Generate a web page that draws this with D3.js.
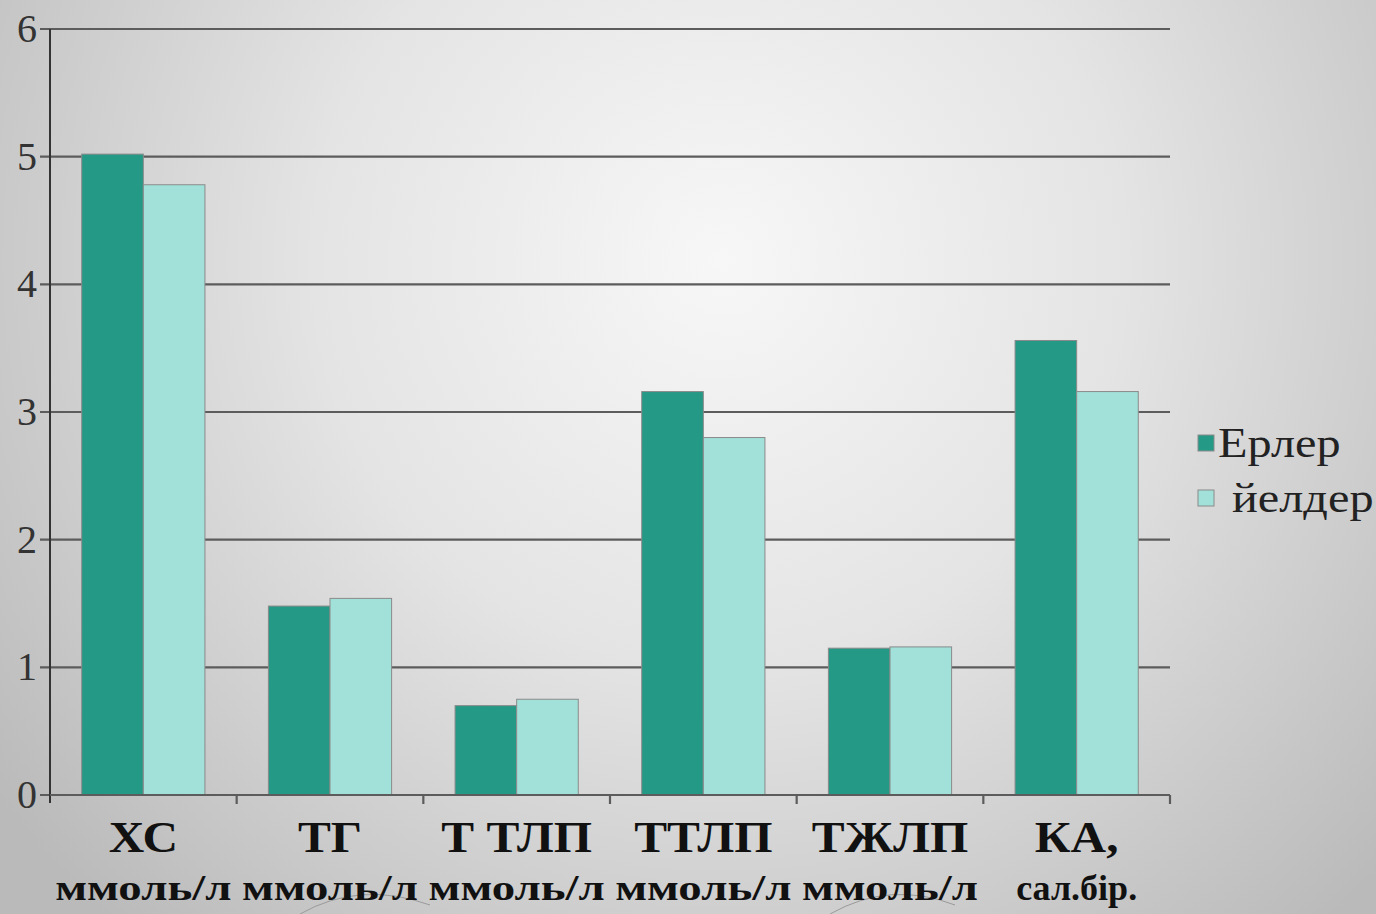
<!DOCTYPE html>
<html>
<head>
<meta charset="utf-8">
<script src="https://cdn.jsdelivr.net/npm/d3@7"></script>
<style>
  body { margin: 0; overflow: hidden; }
  text { font-family: "Liberation Serif", "DejaVu Serif", serif; }
</style>
</head>
<body>
<script>

var W = 1376, H = 914;
var margin = {top: 29, right: 206, bottom: 119, left: 50};
var width = W - margin.left - margin.right,
    height = H - margin.top - margin.bottom;

// data
var categories = ["ХС", "ТГ", "Т ТЛП", "ТТЛП", "ТЖЛП", "КА,"];
var units = ["ммоль/л", "ммоль/л", "ммоль/л", "ммоль/л", "ммоль/л", "сал.бір."];
var seriesNames = ["Ерлер", "йелдер"];
var men = [5.02, 1.48, 0.70, 3.16, 1.15, 3.56];
var women = [4.78, 1.54, 0.75, 2.80, 1.16, 3.16];
var yTicks = [0, 1, 2, 3, 4, 5, 6];
var colors = ["#249985", "#a1e1d9"];

var svg = d3.select("body").append("svg")
    .attr("width", W)
    .attr("height", H);

// slide background
var grad = svg.append("defs").append("radialGradient")
    .attr("id", "bg")
    .attr("gradientUnits", "userSpaceOnUse")
    .attr("cx", 720).attr("cy", 260).attr("r", 900);
grad.append("stop").attr("offset", "0").attr("stop-color", "#f7f7f7");
grad.append("stop").attr("offset", "0.45").attr("stop-color", "#e4e4e4");
grad.append("stop").attr("offset", "1").attr("stop-color", "#bababa");

svg.append("rect").attr("width", W).attr("height", H).attr("fill", "url(#bg)");

// faint arcs at the bottom of the slide
svg.append("path")
    .attr("d", "M300,914 Q360,880 430,905")
    .attr("fill", "none").attr("stroke", "#9a9a9a").attr("stroke-width", 1);
svg.append("path")
    .attr("d", "M830,914 Q890,880 955,905")
    .attr("fill", "none").attr("stroke", "#9a9a9a").attr("stroke-width", 1);

var canvas = svg.append("g")
    .attr("transform", "translate(" + margin.left + "," + margin.top + ")");

var x0 = d3.scaleBand().domain(categories).range([0, width]).paddingInner(0.34).paddingOuter(0.17);
var x1 = d3.scaleBand().domain(seriesNames).range([0, x0.bandwidth()]);
var y = d3.scaleLinear().domain([0, 6]).range([height, 0]);

// grid lines
canvas.selectAll(".grid")
    .data(yTicks)
    .enter().append("line")
    .attr("x1", -10)
    .attr("x2", width)
    .attr("y1", function(d) { return y(d); })
    .attr("y2", function(d) { return y(d); })
    .attr("stroke", "#5c5c5c")
    .attr("stroke-width", 2.2);

// y labels
canvas.selectAll(".ylab")
    .data(yTicks)
    .enter().append("text")
    .attr("x", -13)
    .attr("y", function(d) { return y(d) + 13; })
    .attr("text-anchor", "end")
    .attr("font-size", 40)
    .attr("fill", "#333")
    .text(function(d) { return d; });

// bars
var groups = canvas.selectAll(".grp")
    .data(categories)
    .enter().append("g")
    .attr("transform", function(d) { return "translate(" + x0(d) + ",0)"; });

groups.selectAll("rect")
    .data(function(d, i) { return [men[i], women[i]].map(function(v, j) { return {s: seriesNames[j], v: v, j: j}; }); })
    .enter().append("rect")
    .attr("x", function(d) { return x1(d.s); })
    .attr("y", function(d) { return y(d.v); })
    .attr("width", x1.bandwidth())
    .attr("height", function(d) { return height - y(d.v); })
    .attr("fill", function(d) { return colors[d.j]; })
    .attr("stroke", "#8a8a8a")
    .attr("stroke-width", 1);

// axes
canvas.append("line")
    .attr("x1", 0).attr("x2", 0)
    .attr("y1", 0).attr("y2", height + 8)
    .attr("stroke", "#333").attr("stroke-width", 2);

canvas.append("line")
    .attr("x1", 0).attr("x2", width)
    .attr("y1", height).attr("y2", height)
    .attr("stroke", "#5c5c5c").attr("stroke-width", 2.2);

var step = x0.step();
canvas.selectAll(".xtick")
    .data(d3.range(1, categories.length + 1))
    .enter().append("line")
    .attr("x1", function(i) { return i * step; })
    .attr("x2", function(i) { return i * step; })
    .attr("y1", height).attr("y2", height + 9)
    .attr("stroke", "#5c5c5c").attr("stroke-width", 2.2);

// category labels (stretched a little to match the wide original face)
canvas.selectAll(".cat")
    .data(categories)
    .enter().append("text")
    .attr("transform", function(d) {
      return "translate(" + (x0(d) + x0.bandwidth() / 2) + "," + (height + 57) + ") scale(1.12,1)";
    })
    .attr("text-anchor", "middle")
    .attr("font-size", 44)
    .attr("font-weight", "bold")
    .attr("fill", "#111")
    .text(function(d) { return d; });

canvas.selectAll(".unit")
    .data(units)
    .enter().append("text")
    .attr("transform", function(d, i) {
      var sx = d == "ммоль/л" ? 1.3 : 1;
      return "translate(" + (x0(categories[i]) + x0.bandwidth() / 2) + "," + (height + 105) + ") scale(" + sx + ",1)";
    })
    .attr("text-anchor", "middle")
    .attr("font-size", 36)
    .attr("font-weight", "bold")
    .attr("fill", "#111")
    .text(function(d) { return d; });

// legend
var legend = svg.append("g");
var legendY = [443, 498];
var legendX = [1218, 1232];
seriesNames.forEach(function(name, i) {
  legend.append("rect")
      .attr("x", 1198).attr("y", legendY[i] - 8)
      .attr("width", 16).attr("height", 16)
      .attr("fill", colors[i])
      .attr("stroke", "#8a8a8a").attr("stroke-width", 1);
  legend.append("text")
      .attr("transform", "translate(" + legendX[i] + "," + (legendY[i] + 14) + ") scale(1.15,1)")
      .attr("font-size", 42)
      .attr("fill", "#222")
      .text(name);
});

</script>
</body>
</html>
